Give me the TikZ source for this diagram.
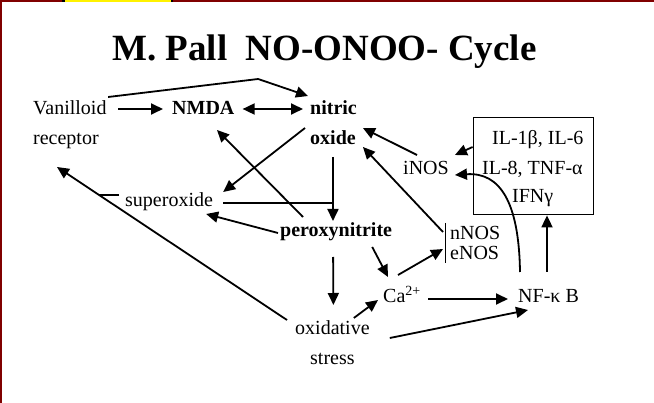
\documentclass[tikz,border=0pt]{standalone}
\usepackage{fontspec}
\setmainfont{Liberation Serif}
\usetikzlibrary{arrows.meta,calc}
\definecolor{slidered}{RGB}{128,0,0}
\begin{document}
\begin{tikzpicture}[x=1pt,y=-1pt,
	lbl/.style={inner sep=0pt,anchor=base west,font=\fontsize{20}{24}\selectfont},
	blbl/.style={lbl,font=\fontsize{20}{24}\selectfont\bfseries},
	arr/.style={line width=1.8pt,-{Triangle[length=12pt,width=11pt]}},
	dbl/.style={line width=1.8pt,{Triangle[length=12pt,width=11pt]}-{Triangle[length=12pt,width=11pt]}},
	plain/.style={line width=1.8pt}]
			\useasboundingbox (0,0) rectangle (654,403);
			%Frame
			\fill[slidered] (0,0) rectangle (654,2);
			\fill[slidered] (0,0) rectangle (2,403);
			\fill[black] (62,0) rectangle (173,2);
			\fill[yellow] (65,0) rectangle (171,2);
			%Title
			\node[inner sep=0pt,anchor=base west,font=\fontsize{37}{41}\selectfont\bfseries] (title) at (112,61) {M. Pall~~NO-ONOO- Cycle};
			%Labels
			\node[lbl] (vanil) at (33,115) {Vanilloid};
			\node[lbl] (recep) at (33,145) {receptor};
			\node[blbl] (nmda) at (172,115) {NMDA};
			\node[blbl] (nitric) at (310,115) {nitric};
			\node[blbl] (oxide) at (310,145) {oxide};
			\node[lbl] (superox) at (125,207) {superoxide};
			\node[blbl] (perox) at (280,237) {peroxynitrite};
			\node[lbl] (inos) at (403,175) {iNOS};
			\node[lbl] (nnos) at (450,240) {nNOS};
			\node[lbl] (enos) at (450,260) {eNOS};
			\node[lbl] (ca) at (383,303) {Ca\textsuperscript{2+}};
			\node[lbl] (nfkb) at (518,303) {NF-κ B};
			\node[lbl] (oxid) at (295,335) {oxidative};
			\node[lbl] (stress) at (310,365) {stress};
			%Cytokine box
			\node[draw,line width=0.8pt,minimum width=120pt,minimum height=97pt,inner sep=0pt] (cyto) at (533,165.5) {};
			\node[lbl] (il1) at (492,145) {IL-1β, IL-6};
			\node[lbl] (il8) at (482,175) {IL-8, TNF-α};
			\node[lbl] (ifn) at (512,203) {IFNγ};
			%NOS bar
			\draw[line width=0.8pt] ([shift={(-5,-17)}]nnos.base west) -- ([shift={(-5,3)}]enos.base west);
			%Arrows
			\draw[arr] ([shift={(11.4,-6)}]vanil.base east) -- ([shift={(-9,-6)}]nmda.base west);
			\draw[dbl] ([shift={(8,-6)}]nmda.base east) -- ([shift={(-7,-6)}]nitric.base west);
			\draw[arr] ([shift={(1.4,-18)}]vanil.base east) -- ++(150,-18) -- ([shift={(-2,-19)}]nitric.base west);
			\draw[arr] ([shift={(-5,-17)}]oxide.base west) -- ([shift={(10,-15)}]superox.base east);
			\draw[arr] ([shift={(23,-20)}]perox.base west) -- ([shift={(45,15)}]nmda.base west);
			\draw[arr] ([shift={(0,12)}]oxide.base) -- ($(oxide.base |- perox.base)+(0,-16)$);
			\draw[plain] ([shift={(10,-4)}]superox.base east) -- ($(oxide.base |- superox.base)+(0,-4)$);
			\draw[arr] ([shift={(-2,-4)}]perox.base west) -- ([shift={(-7,7)}]superox.base east);
			\draw[arr] ([shift={(-8,-15)}]oxid.base west) -- ([shift={(24,22)}]recep.base west);
			\draw[plain] ([shift={(-6,-12)}]superox.base west) -- ++(-20,0);
			\draw[arr] ([shift={(-3,20)}]perox.base) -- ([shift={(1,-30)}]oxid.base);
			\draw[arr] ([shift={(-20,10)}]perox.base east) -- ([shift={(5,-26)}]ca.base west);
			\draw[arr] ([shift={(-16,-17)}]oxid.base east) -- ([shift={(-5,-3)}]ca.base west);
			\draw[arr] ([shift={(15,-28)}]ca.base west) -- ([shift={(-7,-11)}]enos.base west);
			\draw[arr] ([shift={(7,-4)}]ca.base east) -- ([shift={(-10,-4)}]nfkb.base west);
			\draw[arr] ([shift={(20,3)}]oxid.base east) -- ([shift={(10,7)}]nfkb.base west);
			\draw[arr] ([shift={(14,-20)}]inos.base west) -- ([shift={(7,-17)}]oxide.base east);
			\draw[arr] ([shift={(-7,-8)}]nnos.base west) -- ([shift={(7,2)}]oxide.base east);
			\draw[arr] ([shift={(0,-18.5)}]cyto.west) -- ([shift={(6,-20)}]inos.base east);
			\draw[arr] ([shift={(2,-31)}]nfkb.base west) .. controls +(-1,-70) and +(45,-3) .. ([shift={(6,0)}]inos.base east);
			\draw[arr] ([shift={(29,-31)}]nfkb.base west) -- ([shift={(14,1)}]cyto.south);
\end{tikzpicture}
\end{document}
